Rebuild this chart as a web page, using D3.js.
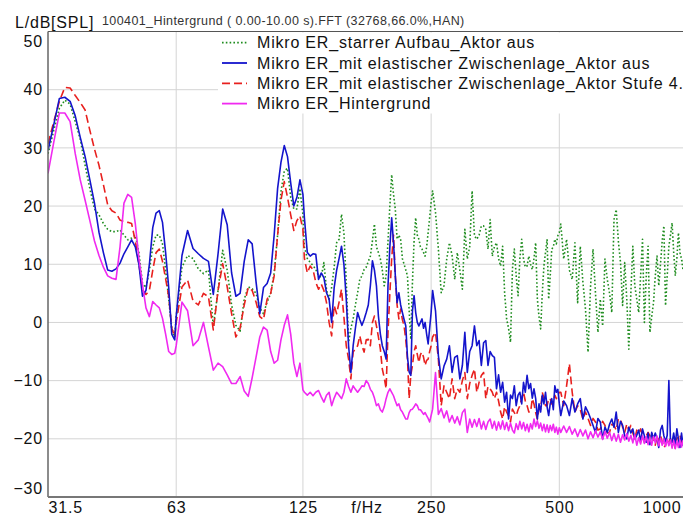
<!DOCTYPE html>
<html>
<head>
<meta charset="utf-8">
<script src="https://cdn.jsdelivr.net/npm/d3@7"></script>
<style>
  body { margin: 0; background: #fff; }
  text { font-family: "Liberation Sans", Arial, sans-serif; }
</style>
</head>
<body>
<div id="chart"></div>
<script>

// frequency grid (Hz), one list per octave starting at 31.5 Hz
var freqHz = [].concat(
  [31.5,32.5,33.5,34.5,35.5,36.5,37.5,38.5,39.5,40.5,41.5,42.5,43.5,44.5,45.5,46.5,47.5,48.5,49.5,50.5,51.5,52.5,53.5,54.5,55.5,56.5,57.5,58.5,59.5,60.5,61.5,62.5],
  [63,65,67,69,71,73,75,77,79,81,83,85,87,89,91,93,95,97,99,101,103,105,107,109,111,113,115,117,119,121,123,125],
  [126,128,130,132,134,136,138,140,142,144,146,148,150,152,154,156,158,160,162,164,166,168,170,172,174,176,178,180,182,184,186,188,190,192,194,196,198,200,202,204,206,208,210,212,214,216,218,220,222,224,226,228,230,232,234,236,238,240,242,244,246,248,250],
  [252,256,260,264,268,272,276,280,284,288,292,296,300,304,308,312,316,320,324,328,332,336,340,344,348,352,356,360,364,368,372,376,380,384,388,392,396,400,404,408,412,416,420,424,428,432,436,440,444,448,452,456,460,464,468,472,476,480,484,488,492,496,500],
  [504,512,520,528,536,544,552,560,568,576,584,592,600,608,616,624,632,640,648,656,664,672,680,688,696,704,712,720,728,736,744,752,760,768,776,784,792,800,808,816,824,832,840,848,856,864,872,880,888,896,904,912,920,928,936,944,952,960,968,976,984,992,1000]
);

// levels in dB(SPL), same order as freqHz
var starrAus = [].concat(
  [29,33,36.8,38.2,37.5,34.5,31.5,27,23,19.5,18.5,17,16,15.6,15.6,15.9,15,14.2,14.5,15,12,6.7,6,9,13,15,15,13.5,9,4,-1,-2.5],
  [1,9.5,11.5,11,9.2,8.4,9,-0.7,5.5,12.4,9,3,-0.5,-1.5,4,6.1,5.8,5,2.5,1.5,3.5,5,8.5,15,22.5,26,26.5,21.5,19.5,19.5,23,18.5],
  [13,11,10.3,9.8,9.1,8,7.8,10.3,5.6,4,6,9.5,13.7,14.3,18.6,15.4,7,-3.4,-1,0.6,3,5.1,7.4,8,9.1,9.5,10.5,11.4,14,16.9,13,12,10.9,9,6.3,8,14,20,25.4,22,19.4,14.3,15,14.3,11,10,9,8,2,-2.9,7,14,18,15,14.3,13,12.6,12,11.4,13,15.4,18,20.6],
  [22.6,18.9,12.6,5.1,6.3,10.9,13.7,11.5,7.4,12,9,5.7,16,10.9,13,22.6,14.9,14.3,15,16.6,16.6,16,12.6,17.7,11.4,13,13.7,11,9.7,13.1,5.1,0.6,-1,-3.4,9.1,12.6,8,4.6,11,14.3,10.9,9.5,9.7,11.4,10,9.1,11,13.7,4,1,-1.1,5,9.7,12,14.3,4,8,12.6,13,14.3,13.5,14.9,15.5],
  [16.9,10.9,14.3,9,7.4,13.7,3.4,13.1,6.9,2.3,-5.1,6.3,12.6,5,-1.7,4,-0.6,10.9,7.4,5,1.7,17.7,19.4,14,10.3,2.9,10.3,4,-4.6,5,13.1,6.3,4,1.7,8,14.3,0,8,13.1,-1.7,1,3.4,8,11.4,6.3,10,14,16.6,2.9,8,13.1,15,17.1,12,8,11,15.4,12,10.9,9,13,10,12]
);

var elastAus = [].concat(
  [29.6,34,38.5,38.7,38.0,35.5,31.8,28.5,24.5,20.5,15.5,12,9,8.8,9.2,10.2,11.8,13,14.2,13,10,4.5,5.5,10,16.3,18.8,19.2,17.2,12,6,-2,-3],
  [1,11.5,15.8,12.7,11.8,11,10.5,4.8,11.8,19.5,16.8,8.5,4.5,5,10.5,14.2,13.5,7,1.5,6,6.7,8.5,15,23,27.5,30.4,28.5,24,20,21.5,24.5,22],
  [18,12,11.4,11.8,11.7,7.4,8.5,7.7,5.1,4,0,6,9,11,13.1,10,4,-4,-8.6,-4,-1,1.7,0.5,-0.5,0.5,1.7,3,6.3,10.6,9,6.3,1.1,-2,-4,-5,-6.3,6.3,13,18,13.7,8,3.4,5.1,3,1.7,0.5,-0.6,-6,-8.5,-9.1,2,4.6,1.7,0,-0.6,0,0.6,-1,0,-2,-3.7,-1,1.7],
  [5.5,2,-5.7,-9.7,-7.5,-6.3,-4,-8.6,-6,-5.7,-9.7,-7.4,-1.7,-8.6,-5,-4,-0.6,-4,-3.1,-7.4,-3.5,-3.1,-7.4,-5,-5.7,-6,-11.4,-9,-12,-10.3,-13.7,-12,-16.6,-12.5,-13.1,-10.9,-14.3,-12.5,-12,-14,-10.3,-12,-9.1,-11.4,-10.5,-13,-11.4,-13.1,-16.6,-14,-15.4,-12.5,-14,-12,-14.5,-16,-14,-13.1,-15,-10.9,-12,-11.5,-14],
  [-16,-13.5,-14.3,-16,-13.1,-15.4,-14,-13.1,-16.6,-14.5,-15.4,-16.5,-17.7,-18.9,-16.5,-17.1,-20,-18,-18.9,-17.5,-16.6,-18,-15.4,-18.9,-17,-17.7,-19.5,-20,-18,-19,-18.3,-20,-19.4,-18.5,-20.5,-18.3,-19.5,-20.6,-19,-21,-18.9,-20,-19,-20,-21.5,-18.5,-17.7,-19.5,-20.5,-19.4,-10,-20.5,-20.6,-19,-21,-18.3,-20,-21.5,-19,-21.1,-20,-21,-20]
);

var elastStufe4 = [].concat(
  [30.7,34.5,38,40.4,40.3,39,37.8,36.5,33,29.8,27,23.7,20.2,19.2,18.8,17.6,17.3,17.2,17,14,10,5.6,4.8,5.5,9,12,12.6,10.5,7.5,4.5,-1,-2.5],
  [0,6.1,7.3,3.7,3,5,4.4,-1.3,5.5,10.1,6.1,1.5,-2.5,-1,3,6,5.5,3.5,1,0.5,4,5,8,15,21,24.2,21.5,18.5,15.8,17.5,18.3,16],
  [11,8.5,9.7,9.1,6.9,5.7,6.6,5.5,3.4,0,-2.3,2.9,1.5,3.5,5.7,1,-4,-6.3,-9.7,-5.1,-4.5,-4,-2.3,-4,-5.1,-3,-2.9,-4,0,1.1,-0.6,-2.5,-4.6,-8,-9.5,-11.4,-1.7,5,11,15,8,3,0.6,2.3,0.5,-0.6,-3,-6.3,-13.1,-9,-7.4,-5,-4,-5.5,-6.9,-5.5,-5.1,-6,-7.4,-6.5,-6.3,-5,-4],
  [-2.5,-1.7,-6.3,-14.3,-10.9,-12,-13.1,-9.7,-13.1,-11.4,-12,-10,-8.6,-13.1,-10.5,-9.1,-8,-12,-10.3,-9.1,-8.6,-13.1,-11,-11.4,-12,-13.1,-12,-13.5,-15.4,-16.6,-14.5,-15.4,-16,-17.1,-14.9,-15.5,-16,-15,-14.3,-13,-12,-13.5,-14.3,-15.4,-15.4,-13.1,-14,-15.5,-16.6,-14.9,-14.9,-12,-13,-14.3,-14.3,-13.1,-13.1,-14,-13.7,-12.5,-13.1,-12.5,-12],
  [-12,-14.3,-10.9,-7.1,-12,-15.4,-14.3,-15,-16.6,-15.4,-16.5,-17.7,-16.5,-17.1,-18.5,-18.3,-17,-17.7,-19,-18.9,-17.5,-17.7,-18.5,-16.6,-16.6,-18,-18.9,-17.5,-18.5,-17.7,-19,-20,-18.5,-19,-18.3,-19.5,-20.6,-19.5,-18.9,-19.5,-18.9,-20.5,-21.1,-19.5,-20.5,-19.4,-20.5,-21.5,-21.1,-20,-20.5,-20,-21,-20.5,-21.7,-20,-19.4,-19.4,-21,-20,-21.5,-20,-21]
);

var hintergrund = [].concat(
  [25.6,31,36,36,34.5,29,24.5,21,17.5,14,11.5,9.5,8,7.6,7.4,13,20.5,22,21.5,17,11,6.5,2.5,1,3.6,3,2.5,0.7,-2,-5,-5.5,-5.3],
  [-4,3.5,2,-4,-3,0,-4.2,-8.2,-7,-7.6,-9,-10.5,-10.5,-9.3,-11.8,-12.7,-9.5,-6,-2.5,-0.8,-1.3,-5,-7,-6.5,-3,-0.5,1.3,-2,-7,-9.3,-7,-11.6],
  [-12,-12.5,-12,-12.6,-12,-11.7,-12.8,-13.7,-12.5,-12,-14.3,-13,-12,-12.5,-13.1,-12,-9.7,-11,-12,-10.9,-11.5,-12,-11.5,-10.9,-11,-10,-10.5,-11.5,-12,-13,-14.3,-14,-15,-15.4,-14.5,-13.1,-12,-11.4,-12,-12.6,-13.5,-14.3,-14,-15,-15.4,-16,-16.6,-16.6,-15.5,-15,-14.9,-14.5,-14,-14.3,-15,-15,-15.4,-15.8,-15.5,-16,-16.5,-17.1,-16],
  [-14.9,-8.6,-15.8,-14.8,-16.4,-15.2,-17.1,-16,-17.3,-16.2,-17.6,-15.5,-14.9,-18.9,-16.6,-18,-16.7,-17.9,-16.5,-18.3,-17,-18.4,-17.1,-16.6,-18.2,-17,-18.5,-17.1,-18.3,-16.9,-18.4,-17.2,-18.6,-17.3,-18.5,-19,-17.4,-18.4,-17,-18.3,-17.2,-18.6,-17.5,-18.8,-17.4,-18.3,-16.6,-17.9,-16.9,-18.2,-17.3,-18.6,-17.5,-18.8,-17.6,-18.9,-17.7,-18.6,-17.5,-18.9,-18,-19.2,-18.1],
  [-18.9,-17.8,-18.9,-17.9,-19.2,-18.3,-19.6,-18.4,-19.5,-18.5,-20,-18.8,-19.8,-18.6,-19.7,-18.8,-20.1,-18.7,-19.9,-18.9,-20.3,-19.1,-20.4,-19.2,-20.6,-19.3,-20.2,-19.1,-20.4,-19.4,-20.7,-19.3,-21.1,-19.8,-20.9,-19.5,-20.8,-19.6,-21,-19.8,-21.1,-19.6,-20.7,-19.5,-21.2,-19.9,-21.1,-20,-21.3,-20.1,-21.2,-20.2,-21.6,-20.3,-21.7,-20.4,-21.5,-20.2,-21.4,-20.3,-21.6,-20.4,-21.3]
);

var seriesNames = [
  "Mikro ER_starrer Aufbau_Aktor aus",
  "Mikro ER_mit elastischer Zwischenlage_Aktor aus",
  "Mikro ER_mit elastischer Zwischenlage_Aktor Stufe 4.",
  "Mikro ER_Hintergrund"
];

var xTicks = [31.5, 63, 125, 250, 500, 1000];
var xTickLabels = ["31.5", "63", "125", "250", "500", "1000"];
var xGrid = [63, 125, 250, 500];
var yTicks = [-30, -20, -10, 0, 10, 20, 30, 40, 50];

var titleText = "L/dB[SPL]";
var subtitleText = "100401_Hintergrund ( 0.00-10.00 s).FFT (32768,66.0%,HAN)";
var xLabelText = "f/Hz";


var g = {};
g.fullWidth = 683;
g.fullHeight = 515;
g.margin = {top: 31.5, left: 48};
g.width = 641;          // plot runs on past the right edge of the picture
g.height = 465.5;

g.x = d3.scaleLog().domain([31.5, 1008]).range([0, g.width]);
g.y = d3.scaleLinear().domain([-30, 50]).range([g.height, 0]);

var svg = d3.select("#chart")
  .append("svg")
    .attr("width", g.fullWidth)
    .attr("height", g.fullHeight);

svg.append("rect")
  .attr("width", g.fullWidth)
  .attr("height", g.fullHeight)
  .attr("fill", "#fff");

var plot = svg.append("g")
  .attr("transform", "translate(" + g.margin.left + "," + g.margin.top + ")");

plot.append("clipPath")
  .attr("id", "plotClip")
  .append("rect")
    .attr("width", g.width)
    .attr("height", g.height);

// grid
plot.append("g").selectAll("line").data(yTicks.slice(1, -1))
  .enter().append("line")
    .attr("x1", 0).attr("x2", g.width)
    .attr("y1", function(d) { return g.y(d); })
    .attr("y2", function(d) { return g.y(d); })
    .attr("stroke", "#d4d4d4");

plot.append("g").selectAll("line").data(xGrid)
  .enter().append("line")
    .attr("x1", function(d) { return g.x(d); })
    .attr("x2", function(d) { return g.x(d); })
    .attr("y1", 0).attr("y2", g.height)
    .attr("stroke", "#d4d4d4");

var series = [
  {name: seriesNames[0], values: starrAus,    color: "#1e8c1e", dash: "1.6,2.2"},
  {name: seriesNames[1], values: elastAus,    color: "#1414cc", dash: null},
  {name: seriesNames[2], values: elastStufe4, color: "#e8201e", dash: "8,4"},
  {name: seriesNames[3], values: hintergrund, color: "#f02af0", dash: null}
];

g.valueline = d3.line()
  .x(function(d, i) { return g.x(freqHz[i]); })
  .y(function(d) { return g.y(d); });

var lines = plot.append("g").attr("clip-path", "url(#plotClip)");
// drawing order: green, red, blue, magenta on top
[0, 2, 1, 3].forEach(function(k) {
  var s = series[k];
  lines.append("path")
    .attr("d", g.valueline(s.values))
    .attr("fill", "none")
    .attr("stroke", s.color)
    .attr("stroke-width", 1.6)
    .attr("stroke-linejoin", "round")
    .style("stroke-dasharray", s.dash);
});

// legend
var legend = plot.append("g").attr("transform", "translate(170,0)");
legend.append("rect")
  .attr("x", 0).attr("y", 1)
  .attr("width", g.width - 170).attr("height", 81)
  .attr("fill", "#fff");

var item = legend.selectAll(".item").data(series)
  .enter().append("g")
    .attr("class", "item")
    .attr("transform", function(d, i) { return "translate(0," + (11.2 + i * 20.3) + ")"; });

item.append("line")
  .attr("x1", 4).attr("x2", 29)
  .attr("stroke", function(d) { return d.color; })
  .attr("stroke-width", 1.8)
  .style("stroke-dasharray", function(d) { return d.dash; });

item.append("text")
  .attr("x", 39)
  .attr("dy", "0.35em")
  .style("font-size", "16px")
  .style("letter-spacing", "0.8px")
  .attr("fill", "#111")
  .text(function(d) { return d.name; });

// frame
plot.append("line")
  .attr("x1", 0).attr("x2", g.width).attr("y1", 0).attr("y2", 0)
  .attr("stroke", "#555").attr("stroke-width", 1.2);
plot.append("line")
  .attr("x1", 0).attr("x2", 0).attr("y1", 0).attr("y2", g.height)
  .attr("stroke", "#666").attr("stroke-width", 1.5);
plot.append("line")
  .attr("x1", 0).attr("x2", g.width).attr("y1", g.height).attr("y2", g.height)
  .attr("stroke", "#777").attr("stroke-width", 2);

// axes
g.xAxis = d3.axisBottom(g.x)
  .tickValues(xTicks)
  .tickFormat(function(d, i) { return xTickLabels[i]; })
  .tickSize(0)
  .tickPadding(5);
g.yAxis = d3.axisLeft(g.y)
  .tickValues(yTicks)
  .tickFormat(d3.format("d"))
  .tickSize(0)
  .tickPadding(5);

var xa = plot.append("g")
  .attr("class", "x axis")
  .attr("transform", "translate(0," + g.height + ")")
  .call(g.xAxis);
var ya = plot.append("g")
  .attr("class", "y axis")
  .call(g.yAxis);

[xa, ya].forEach(function(a) {
  a.select(".domain").remove();
  a.selectAll("text")
    .style("font-family", "'Liberation Sans', Arial, sans-serif")
    .style("font-size", "16px")
    .style("letter-spacing", "0.8px")
    .attr("fill", "#111");
});

// end labels are pushed inside the frame / picture
var lastX = g.x(xTicks[xTicks.length - 1]);
xa.selectAll("text")
  .attr("text-anchor", function(d, i) {
    return i === 0 ? "start" : (i === xTicks.length - 1 ? "end" : "middle");
  })
  .attr("x", function(d, i) {
    return i === xTicks.length - 1 ? (g.fullWidth - 2 - g.margin.left - lastX) : 0;
  });
ya.selectAll("text")
  .attr("dy", function(d) { return d === 50 ? "0.92em" : (d === -30 ? "-0.22em" : "0.32em"); });

xa.append("text")
  .attr("x", g.x(Math.sqrt(125 * 250)))
  .attr("y", 5)
  .attr("dy", "0.71em")
  .attr("text-anchor", "middle")
  .style("font-size", "16px")
  .style("letter-spacing", "0.8px")
  .attr("fill", "#111")
  .text(xLabelText);

// titles
svg.append("text")
  .attr("x", 15).attr("y", 27.5)
  .style("font-size", "16px")
  .style("letter-spacing", "0.8px")
  .attr("fill", "#111")
  .text(titleText);

svg.append("text")
  .attr("x", 102).attr("y", 24.5)
  .style("font-size", "12.5px")
  .style("letter-spacing", "0.4px")
  .attr("fill", "#333")
  .text(subtitleText);

</script>
</body>
</html>
